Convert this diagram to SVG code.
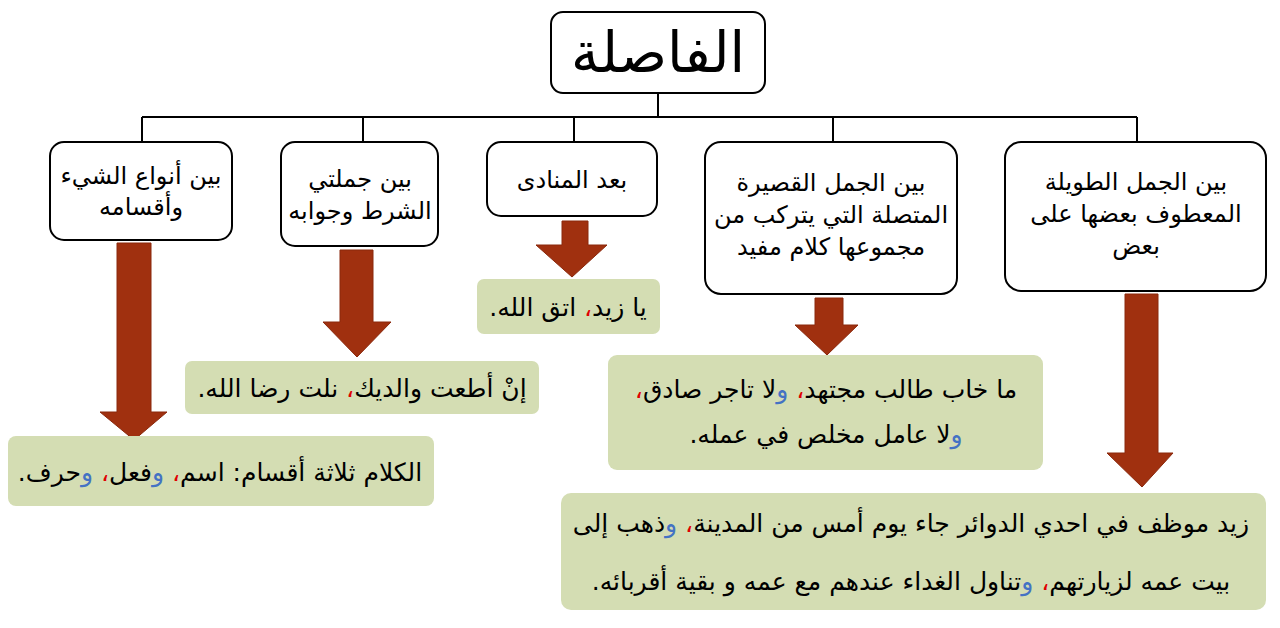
<svg xmlns="http://www.w3.org/2000/svg" width="1280" height="628" viewBox="0 0 1280 628">
<style>
.node{fill:#fff;stroke:#000;stroke-width:2}
.ex{fill:#D4DDB3;stroke:none}
.t{font-family:"DejaVu Sans",sans-serif;font-size:24px;fill:#000;text-anchor:middle;direction:rtl}
.e{font-family:"DejaVu Sans",sans-serif;font-size:25px;fill:#000;text-anchor:middle;direction:rtl}
.r{fill:#E00000}
.b{fill:#4472C4}
.line{fill:none;stroke:#000;stroke-width:2}
.arrow{fill:#A0300F;stroke:#8A280C;stroke-width:1}
</style>
<rect width="1280" height="628" fill="#fff"/>
<g id="connectors">
<path class="line" d="M658,93 V117 M142,117 H1137 M142,117 V142 M363,117 V142 M574,117 V142 M833,117 V142 M1137,117 V142"/>
</g>
<g id="title">
<rect class="node" x="551" y="12" width="214" height="81" rx="12"/>
<text class="t" x="658" y="72" style="font-size:56px">الفاصلة</text>
</g>
<g id="n1">
<rect class="node" x="50" y="142" width="182" height="98" rx="14"/>
<text class="t" x="141" y="184">بين أنواع الشيء</text>
<text class="t" x="141" y="215">وأقسامه</text>
</g>
<g id="n2">
<rect class="node" x="281" y="142" width="157" height="104" rx="14"/>
<text class="t" x="360" y="187">بين جملتي</text>
<text class="t" x="360" y="219">الشرط وجوابه</text>
</g>
<g id="n3">
<rect class="node" x="487" y="142" width="170" height="74" rx="14"/>
<text class="t" x="572" y="188">بعد المنادى</text>
</g>
<g id="n4">
<rect class="node" x="705" y="142" width="252" height="152" rx="16"/>
<text class="t" x="831" y="191">بين الجمل القصيرة</text>
<text class="t" x="831" y="223">المتصلة التي يتركب من</text>
<text class="t" x="831" y="255">مجموعها كلام مفيد</text>
</g>
<g id="n5">
<rect class="node" x="1005" y="142" width="261" height="149" rx="16"/>
<text class="t" x="1136" y="190">بين الجمل الطويلة</text>
<text class="t" x="1136" y="222">المعطوف بعضها على</text>
<text class="t" x="1136" y="254">بعض</text>
</g>
<g id="arrows">
<polygon class="arrow" points="117,243 151,243 151,412 167,412 134,440 100,412 117,412"/>
<polygon class="arrow" points="340,250 373,250 373,322 391,322 357,357 323,322 340,322"/>
<polygon class="arrow" points="562,221 588,221 588,245 607,245 572,277 536,245 562,245"/>
<polygon class="arrow" points="815,298 843,298 843,325 858,325 827,355 795,325 815,325"/>
<polygon class="arrow" points="1125,294 1158,294 1158,453 1173,453 1142,487 1107,453 1125,453"/>
</g>
<g id="ex3">
<rect class="ex" x="477" y="279" width="183" height="55" rx="7"/>
<text class="e" x="568" y="316">يا زيد<tspan class="r">،</tspan> اتق الله.</text>
</g>
<g id="ex2">
<rect class="ex" x="185" y="361" width="354" height="53" rx="7"/>
<text class="e" x="362" y="397">إنْ أطعت والديك<tspan class="r">،</tspan> نلت رضا الله.</text>
</g>
<g id="ex1">
<rect class="ex" x="8" y="436" width="426" height="70" rx="8"/>
<text class="e" x="220" y="481">الكلام ثلاثة أقسام: اسم<tspan class="r">،</tspan> <tspan class="b">و</tspan>فعل<tspan class="r">،</tspan> <tspan class="b">و</tspan>حرف.</text>
</g>
<g id="ex4">
<rect class="ex" x="608" y="355" width="435" height="115" rx="9"/>
<text class="e" x="826" y="398">ما خاب طالب مجتهد<tspan class="r">،</tspan> <tspan class="b">و</tspan>لا تاجر صادق<tspan class="r">،</tspan></text>
<text class="e" x="826" y="443"><tspan class="b">و</tspan>لا عامل مخلص في عمله.</text>
</g>
<g id="ex5">
<rect class="ex" x="561" y="493" width="705" height="117" rx="10"/>
<text class="e" x="911" y="532">زيد موظف في احدي الدوائر جاء يوم أمس من المدينة<tspan class="r">،</tspan> <tspan class="b">و</tspan>ذهب إلى</text>
<text class="e" x="911" y="590">بيت عمه لزيارتهم<tspan class="r">،</tspan> <tspan class="b">و</tspan>تناول الغداء عندهم مع عمه و بقية أقربائه.</text>
</g>
</svg>
